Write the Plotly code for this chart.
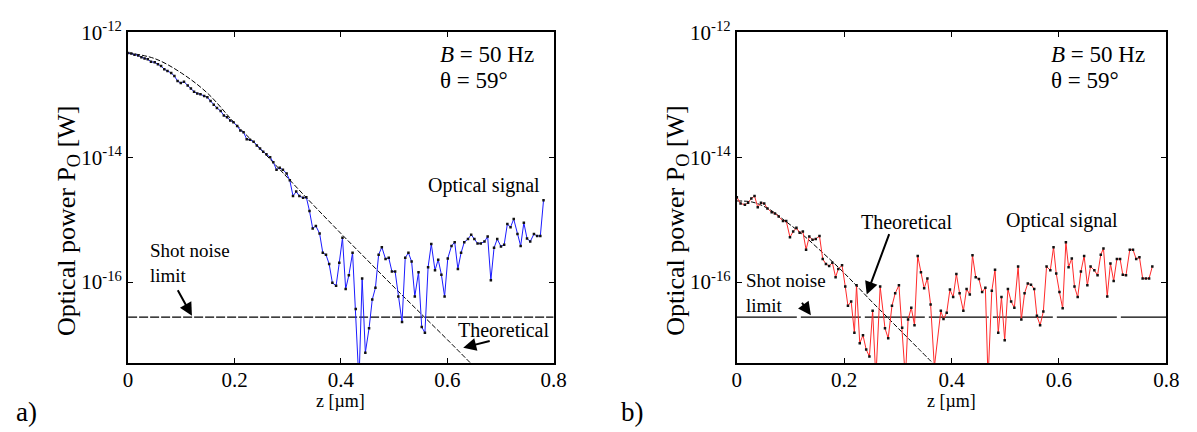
import plotly.graph_objects as go

# ---------------- panel a) : sample position z [um] and log10 of optical power [W]
z_a = [0.000, 0.006, 0.012, 0.019, 0.025, 0.031, 0.037, 0.043, 0.050, 0.056,
       0.062, 0.068, 0.074, 0.081, 0.087, 0.093, 0.099, 0.105, 0.112, 0.118,
       0.124, 0.130, 0.136, 0.143, 0.149, 0.155, 0.161, 0.167, 0.174, 0.180,
       0.186, 0.192, 0.198, 0.205, 0.211, 0.217, 0.223, 0.229, 0.236, 0.242,
       0.248, 0.254, 0.260, 0.267, 0.273, 0.279, 0.285, 0.291, 0.298, 0.304,
       0.310, 0.316, 0.322, 0.329, 0.335, 0.341, 0.347, 0.353, 0.360, 0.366,
       0.372, 0.378, 0.384, 0.391, 0.397, 0.403, 0.409, 0.415, 0.422, 0.428,
       0.434, 0.440, 0.446, 0.453, 0.459, 0.465, 0.471, 0.477, 0.484, 0.490,
       0.496, 0.502, 0.508, 0.515, 0.521, 0.527, 0.533, 0.539, 0.546, 0.552,
       0.558, 0.564, 0.570, 0.577, 0.583, 0.589, 0.595, 0.601, 0.608, 0.614,
       0.620, 0.626, 0.632, 0.639, 0.645, 0.651, 0.657, 0.663, 0.670, 0.676,
       0.682, 0.688, 0.694, 0.701, 0.707, 0.713, 0.719, 0.725, 0.732, 0.738,
       0.744, 0.750, 0.756, 0.763, 0.769, 0.775, 0.781]
log_p_a = [-12.33, -12.34, -12.36, -12.37, -12.40, -12.42, -12.43, -12.47, -12.48, -12.51,
           -12.54, -12.59, -12.62, -12.65, -12.70, -12.78, -12.81, -12.79, -12.85, -12.90,
           -12.95, -12.98, -12.99, -13.02, -13.04, -13.10, -13.16, -13.21, -13.26, -13.33,
           -13.36, -13.41, -13.44, -13.50, -13.57, -13.60, -13.71, -13.72, -13.75, -13.81,
           -13.86, -13.91, -13.95, -14.00, -14.08, -14.20, -14.17,
           -14.20, -14.26, -14.37, -14.62, -14.55, -14.62, -14.65, -14.64, -14.86, -15.14,
           -15.10, -15.22, -15.53, -15.56, -15.71, -16.01, -16.06, -15.69, -15.29, -16.11,
           -15.89, -15.53, -16.43, -17.60, -15.94, -17.13, -16.74, -16.28, -16.09, -15.56,
           -15.44, -15.63, -15.61, -15.83, -15.83, -16.23, -16.64, -15.61, -15.53, -15.67,
           -16.23, -15.84, -16.72, -16.81, -15.76, -15.39, -15.81, -15.64, -15.88, -16.23,
           -15.62, -15.42, -15.36, -15.79, -15.53, -15.36, -15.31, -15.24, -15.31, -15.38,
           -15.38, -15.35, -15.27, -15.97, -15.45, -15.31, -15.43, -15.40, -15.07, -15.12,
           -14.99, -15.23, -15.42, -15.05, -15.30, -15.35, -15.23, -15.26, -15.26, -14.69]
z_a_theory = [0.00, 0.05, 0.10, 0.15, 0.20, 0.25, 0.30, 0.35, 0.40, 0.45, 0.50, 0.55, 0.60, 0.65]
log_p_a_theory = [-12.33, -12.42, -12.65, -12.98, -13.45, -13.88, -14.33, -14.78,
                  -15.22, -15.65, -16.08, -16.50, -16.92, -17.35]

# ---------------- panel b)
z_b = [0.000, 0.007, 0.015, 0.021, 0.027, 0.033, 0.039, 0.045, 0.051, 0.057,
       0.065, 0.071, 0.078, 0.086, 0.092, 0.099, 0.105, 0.111, 0.117, 0.123,
       0.129, 0.135, 0.141, 0.147, 0.154, 0.160, 0.166, 0.172, 0.178, 0.184,
       0.189, 0.196, 0.202, 0.207, 0.213, 0.219, 0.223, 0.229, 0.235, 0.241,
       0.247, 0.253, 0.259, 0.267, 0.276, 0.282, 0.289, 0.295, 0.302, 0.308,
       0.314, 0.319, 0.325, 0.331, 0.337, 0.343, 0.349, 0.355, 0.361, 0.368,
       0.380, 0.385, 0.391, 0.397, 0.403, 0.409, 0.415, 0.422, 0.428, 0.434,
       0.439, 0.445, 0.451, 0.457, 0.463, 0.468, 0.475, 0.481, 0.487, 0.493,
       0.499, 0.505, 0.511, 0.517, 0.524, 0.530, 0.536, 0.542, 0.548, 0.554,
       0.559, 0.565, 0.571, 0.577, 0.584, 0.590, 0.595, 0.601, 0.607, 0.613,
       0.618, 0.624, 0.629, 0.635, 0.641, 0.647, 0.653, 0.659, 0.666, 0.672,
       0.678, 0.683, 0.690, 0.696, 0.702, 0.708, 0.714, 0.719, 0.725, 0.732,
       0.738, 0.744, 0.750, 0.756, 0.762, 0.768, 0.774]
log_p_b = [-14.64, -14.74, -14.76, -14.73, -14.66, -14.62, -14.80, -14.73, -14.74, -14.82,
           -14.88, -14.90, -14.95, -15.02, -15.02, -15.28, -15.19, -15.13, -15.21, -15.19,
           -15.48, -15.27, -15.32, -15.31, -15.26, -15.63, -15.71, -15.74, -15.69, -15.92,
           -15.79, -15.73, -16.07, -16.38, -16.31, -16.81, -16.05, -16.98, -16.85, -17.08,
           -17.19, -16.46, -17.55, -16.07, -16.74, -16.90, -16.38, -16.18, -16.05, -16.73,
           -17.55, -16.60, -16.41, -16.69, -15.58, -15.84, -16.10, -15.94, -16.36, -17.36,
           -16.46, -16.59, -16.49, -16.12, -16.24, -15.87, -16.18, -16.46, -16.11, -16.20,
           -15.57, -15.92, -15.95, -16.16, -16.09, -17.55, -16.14, -15.80, -16.81, -16.24,
           -16.93, -16.11, -16.31, -16.41, -15.75, -16.60, -16.18, -16.02, -16.04, -16.11,
           -16.54, -16.69, -16.47, -15.75, -15.81, -15.44, -15.86, -16.16, -16.42, -15.36,
           -15.76, -15.62, -16.07, -16.24, -15.83, -15.58, -16.05, -15.75, -15.81, -15.89,
           -15.56, -15.46, -16.23, -15.70, -15.98, -15.63, -15.63, -15.88, -15.89, -15.48,
           -15.48, -15.63, -15.60, -15.94, -15.94, -15.94, -15.75]
z_b_theory = [0.00, 0.03, 0.06, 0.09, 0.12, 0.15, 0.19, 0.22, 0.25, 0.28, 0.31, 0.34, 0.37]
log_p_b_theory = [-14.70, -14.72, -14.83, -15.02, -15.22, -15.45, -15.77, -16.03,
                  -16.30, -16.56, -16.82, -17.08, -17.34]

# shot noise limit, drawn across the whole z span in both panels
z_span = [0.0, 0.8]
log_shot_noise = -16.56

x_ticks = [0, 0.2, 0.4, 0.6, 0.8]
x_tick_text = ["0", "0.2", "0.4", "0.6", "0.8"]
y_ticks = [1e-12, 1e-14, 1e-16]
y_tick_text = ["10<sup>-12</sup>", "10<sup>-14</sup>", "10<sup>-16</sup>"]

power_a = [10 ** v for v in log_p_a]
power_a_theory = [10 ** v for v in log_p_a_theory]
power_b = [10 ** v for v in log_p_b]
power_b_theory = [10 ** v for v in log_p_b_theory]
shot_noise = [10 ** log_shot_noise] * len(z_span)

SERIF = "Times New Roman"
W, H = 1197, 432

fig = go.Figure()

for xa, ya, z, p, zt, pt, col, shot_dash in [
    ("x", "y", z_a, power_a, z_a_theory, power_a_theory, "#1a1aff", "9px,2px"),
    ("x2", "y2", z_b, power_b, z_b_theory, power_b_theory, "#ff2a2a", "60px,4px"),
]:
    fig.add_trace(go.Scatter(x=z_span, y=shot_noise, mode="lines", xaxis=xa, yaxis=ya,
                             line=dict(color="black", width=1.2, dash=shot_dash),
                             showlegend=False, hoverinfo="skip"))
    fig.add_trace(go.Scatter(x=zt, y=pt, mode="lines", xaxis=xa, yaxis=ya,
                             line=dict(color="black", width=1, dash="5px,2px", shape="spline"),
                             showlegend=False))
    fig.add_trace(go.Scatter(x=z, y=p, mode="lines+markers", xaxis=xa, yaxis=ya,
                             line=dict(color=col, width=1),
                             marker=dict(color="#111111", size=2.5, symbol="square"),
                             showlegend=False))

axis_common = dict(showline=True, linecolor="black", linewidth=2, mirror="allticks",
                   ticks="inside", ticklen=5, tickwidth=1, tickcolor="black",
                   showgrid=False, zeroline=False,
                   tickfont=dict(family=SERIF, size=21, color="black"))

ydom = [1 - 361 / H, 1 - 19 / H]
fig.update_layout(
    width=W, height=H, margin=dict(l=0, r=0, t=0, b=0),
    paper_bgcolor="white", plot_bgcolor="white",
    font=dict(family=SERIF, color="black"),
    xaxis=dict(domain=[125 / W, 557 / W], range=[0, 0.8], tickvals=x_ticks,
               ticktext=x_tick_text, anchor="y", ticklabelstandoff=-4, **axis_common),
    yaxis=dict(domain=ydom, type="log", range=[-17.30, -12], tickvals=y_ticks,
               ticktext=y_tick_text, anchor="x", **axis_common),
    xaxis2=dict(domain=[743 / W, 1179 / W], range=[0, 0.8], tickvals=x_ticks,
                ticktext=x_tick_text, anchor="y2", ticklabelstandoff=-4, **axis_common),
    yaxis2=dict(domain=ydom, type="log", range=[-17.30, -12], tickvals=y_ticks,
                ticktext=y_tick_text, anchor="x2", **axis_common),
)


def px(x, y):
    return dict(x=x / W, y=1 - y / H, xref="paper", yref="paper")


def label(x, y, text, size, xanchor="center", **kw):
    fig.add_annotation(**px(x, y), text=text, showarrow=False, xanchor=xanchor,
                       yanchor="middle", font=dict(family=SERIF, size=size, color="black"), **kw)


# panel letters, axis titles
label(22, 411, "a)", 27)
label(637, 411, "b)", 27)
for x0 in (64, 682):
    label(x0, 214, "Optical power P<sub>O</sub> [W]", 26, textangle=-90)
for xc in (341, 961):
    label(xc, 400, "z [µm]", 18)

# in-plot texts
for x0 in (440, 1060):
    label(x0, 42, "<i>B</i> = 50 Hz", 23, xanchor="left")
    label(x0, 69, "θ = 59°", 23, xanchor="left")
label(486, 177, "Optical signal", 20)
label(506, 327, "Theoretical", 20)
label(145, 257, "Shot noise<br>limit", 19, xanchor="left", align="left")
label(1073, 213, "Optical signal", 20)
label(915, 215, "Theoretical", 20)
label(750, 288, "Shot noise<br>limit", 19, xanchor="left", align="left")

# arrows pointing at the curves (log axes take log10 coordinates)
for xr, yr, zx, ly, ax, ay in [
    ("x", "y", 0.120, -16.54, -15, -27),
    ("x", "y", 0.630, -17.05, 28, -7),
    ("x2", "y2", 0.242, -16.20, 23, -62),
    ("x2", "y2", 0.138, -16.53, -10, -14),
]:
    fig.add_annotation(x=zx, y=ly, xref=xr, yref=yr, ax=ax, ay=ay, axref="pixel", ayref="pixel",
                       text="", showarrow=True, arrowhead=2, arrowsize=1.3, arrowwidth=2,
                       arrowcolor="black", standoff=0)

fig.write_html("out.html")
